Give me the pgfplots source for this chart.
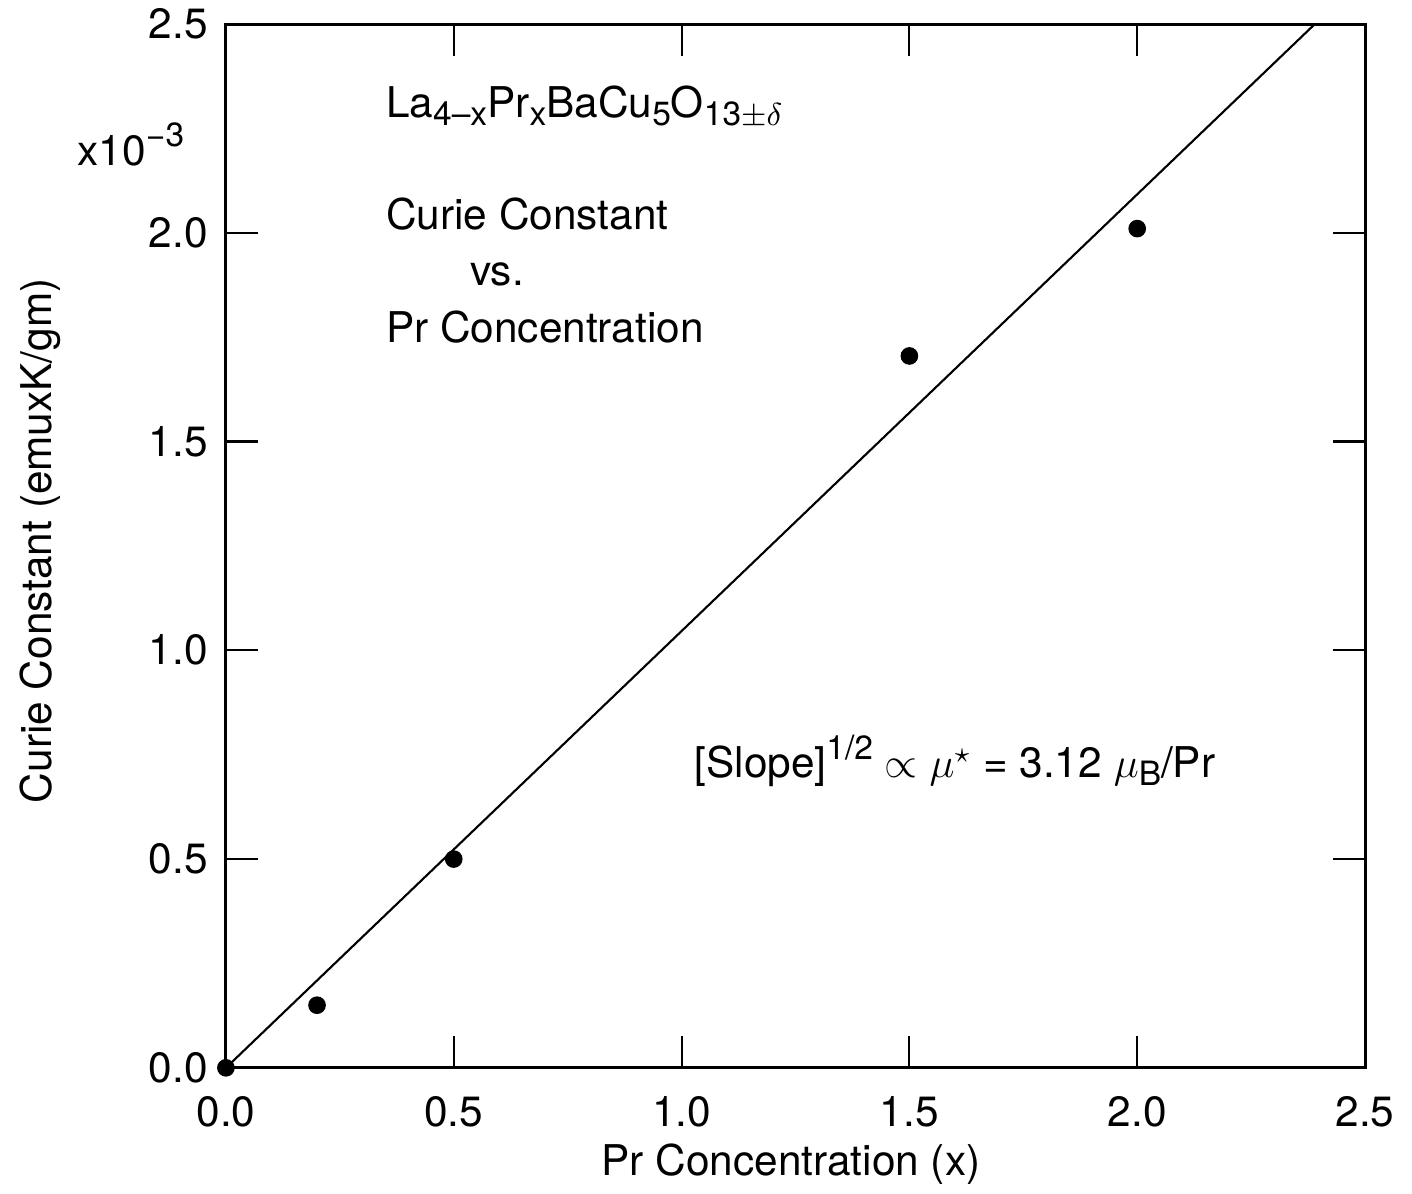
\documentclass[border=0pt]{standalone}
\usepackage{fontspec}
\setmainfont{TeX Gyre Heros}
\usepackage{pgfplots}
\pgfplotsset{compat=1.18}
\newcommand{\sub}[1]{\raisebox{-0.35ex}{\fontsize{9.5}{11}\selectfont #1}}
\newcommand{\sups}[1]{\raisebox{0.85ex}{\fontsize{9.5}{11}\selectfont #1}}
\begin{document}
\fontsize{12}{14}\selectfont
\begin{tikzpicture}
\useasboundingbox (-64pt,-35.7pt) rectangle (336pt,302.5pt);
\begin{axis}[
  scale only axis,
  width=322.7pt, height=295.7pt,
  xmin=0, xmax=2.5, ymin=0, ymax=2.5,
  xtick={0,0.5,1.0,1.5,2.0,2.5},
  ytick={0,0.5,1.0,1.5,2.0,2.5},
  xticklabels={0.0,0.5,1.0,1.5,2.0,2.5},
  yticklabels={0.0,0.5,1.0,1.5,2.0,2.5},
  tick align=inside,
  major tick length=9pt,
  minor tick num=0,
  axis line style={line width=0.85pt},
  every tick/.style={line width=0.6pt, black},
  /pgf/number format/assume math mode=true,
  ticklabel style={font=\fontsize{12}{14}\selectfont},
  xticklabel style={yshift=-4pt},
  yticklabel style={xshift=-1pt},
  xlabel={Pr Concentration (x)},
  ylabel={Curie Constant (emuxK/gm)},
  xlabel style={at={(rel axis cs:0.496,-0.092)}, anchor=center, font=\fontsize{12}{14}\selectfont},
  ylabel style={at={(rel axis cs:-0.163,0.505)}, anchor=center, font=\fontsize{12}{14}\selectfont},
  clip=false,
]
\addplot[only marks, mark=*, mark size=2.3pt, black] coordinates {
  (0.0,0.0) (0.2,0.15) (0.5,0.50) (1.5,1.705) (2.0,2.01)
};
\addplot[black, line width=0.6pt] coordinates {(0,0) (2.39,2.5)};
\node[anchor=east, inner sep=0pt] at (rel axis cs:-0.036,0.885) {x10\sups{−3}};
\node[anchor=west, inner sep=0pt] at (axis cs:0.35,2.30) {La\sub{4–x}Pr\sub{x}BaCu\sub{5}O\sub{13$\pm\delta$}};
\node[anchor=west, inner sep=0pt] at (axis cs:0.35,2.045) {Curie Constant};
\node[anchor=center, inner sep=0pt] at (axis cs:0.595,1.90) {vs.};
\node[anchor=west, inner sep=0pt] at (axis cs:0.35,1.775) {Pr Concentration};
\node[anchor=center, inner sep=0pt] at (axis cs:1.60,0.735) {[Slope]\sups{1/2} $\propto$ $\mu^{\star}$ = 3.12 $\mu$\sub{B}/Pr};
\end{axis}
\end{tikzpicture}
\end{document}
